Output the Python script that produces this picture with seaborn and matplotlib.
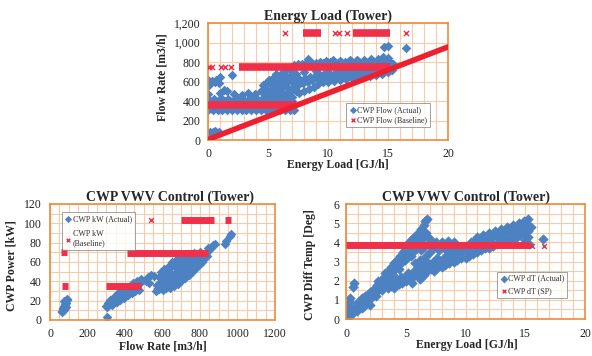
import matplotlib
matplotlib.use("Agg")
import matplotlib.pyplot as plt
import seaborn as sns

# ---- top chart: flow rate vs energy load ----
flow_act_x = [0.0, 0.15, 0.3, 0.45, 0.6, 0.75, 0.9, 0.2, 0.5, 0.8,
              0.0, 0.0, 0.05, 0.1, 0.3, 0.6, 0.9, 0.7, 1.0, 2.0,
              0.0, 0.4, 0.8, 1.2, 1.6, 2.0, 2.4, 2.8, 3.2, 3.6, 4.0, 4.4, 4.8, 5.2, 5.6, 6.0, 6.4, 6.8, 7.2,
              0.2, 0.6, 1.0, 1.4, 1.8, 2.2, 2.6, 3.0, 3.4, 3.8, 4.2, 4.6, 5.0, 5.4, 5.8, 6.2, 6.6, 7.0,
              0.2, 0.6, 1.0, 1.4, 1.8, 2.2, 2.6, 3.0, 3.4, 3.8, 4.2, 4.6, 5.0, 5.4, 5.8, 6.2, 6.6, 7.0,
              0.5, 1.1, 1.7, 2.3, 2.9, 3.5, 4.1, 4.7, 5.3, 5.9, 6.5,
              1.0, 1.3, 1.6, 2.2, 2.8, 3.3, 3.9, 4.4, 4.8,
              4.6, 4.9, 5.1, 5.4, 5.0, 5.3, 5.6, 5.8, 6.0, 6.2, 5.7, 6.1, 6.4, 6.6, 6.8, 7.0,
              6.5, 6.9, 7.2, 7.3, 7.0, 6.3, 5.9,
              5.5, 5.8, 6.0, 6.3, 6.6, 6.9, 7.1, 7.3, 7.4, 6.7, 6.2, 5.5, 5.2, 4.8, 5.7, 6.4, 6.8,
              7.6, 8.0, 8.4, 8.8, 9.2, 9.6, 10.0, 10.5, 11.0, 11.5, 12.0, 12.5, 13.0, 13.5, 14.0, 14.5, 15.0,
              7.5, 7.9, 8.3, 8.7, 9.1, 9.5, 9.9, 10.4, 10.9, 11.4, 11.9, 12.4, 12.9, 13.4, 13.9, 14.4, 14.9, 15.3,
              7.7, 8.1, 8.5, 8.9, 9.3, 9.7, 10.1, 10.7, 11.2, 11.7, 12.2, 12.7, 13.2, 13.7, 14.2, 14.7, 15.2,
              9.4, 9.8, 10.2, 10.7, 11.2, 11.7, 12.2, 12.7, 13.2, 13.7, 14.2, 14.7,
              7.3, 8.0, 9.0, 10.0, 11.0, 12.0, 13.0, 14.0, 15.0,
              7.2, 7.8, 8.4, 9.0, 9.6, 10.2, 10.8, 11.4, 12.0, 12.6, 13.2, 13.8, 14.4, 15.0, 15.4,
              7.5, 8.1, 8.7, 9.3, 9.9, 10.5, 11.1, 11.7, 12.3, 12.9, 13.5, 14.1, 14.7, 15.2,
              8.3, 9.8, 10.4, 11.0, 11.8, 12.4, 13.0, 13.6, 14.2, 14.6, 15.0,
              14.7, 15.0, 16.5]
flow_act_y = [75, 85, 70, 80, 90, 75, 80, 60, 65, 70,
              470, 620, 400, 560, 610, 600, 580, 620, 650, 665,
              310, 310, 310, 310, 310, 310, 310, 310, 310, 310, 310, 310, 310, 310, 310, 310, 310, 310, 310,
              330, 330, 330, 330, 330, 330, 330, 330, 330, 330, 330, 330, 330, 330, 330, 330, 330, 330,
              395, 395, 395, 395, 395, 395, 395, 395, 395, 395, 395, 395, 395, 395, 395, 395, 395, 395,
              425, 430, 420, 430, 425, 435, 425, 440, 445, 430, 425,
              480, 510, 500, 470, 460, 480, 470, 500, 520,
              560, 590, 620, 640, 480, 520, 560, 600, 650, 690, 480, 520, 560, 610, 660, 700,
              470, 500, 540, 600, 440, 440, 430,
              460, 500, 560, 600, 650, 620, 580, 500, 650, 530, 480, 600, 580, 560, 680, 720, 740,
              480, 500, 520, 540, 570, 590, 600, 610, 620, 630, 640, 645, 650, 660, 670, 680, 700,
              560, 580, 600, 620, 640, 650, 660, 665, 670, 675, 680, 685, 690, 690, 700, 700, 710, 720,
              620, 640, 650, 660, 670, 680, 680, 690, 690, 695, 700, 700, 705, 705, 710, 715, 720,
              620, 630, 640, 645, 650, 655, 660, 665, 670, 675, 685, 695,
              680, 700, 705, 700, 705, 710, 710, 715, 720,
              770, 775, 780, 785, 790, 795, 790, 795, 795, 800, 795, 805, 810, 795, 775,
              775, 780, 790, 795, 800, 805, 800, 805, 810, 805, 815, 815, 820, 800,
              830, 815, 825, 815, 820, 825, 820, 830, 835, 850, 840,
              950, 960, 940]
flow_base_x = [0.1, 0.35, 1.05, 1.4, 1.95, 6.45, 10.6, 10.9, 11.6, 16.5]
flow_base_y = [745, 745, 745, 745, 745, 1100, 1100, 1100, 1100, 1100]
flow_run_start = [0.0, 2.6, 7.9, 12.1]
flow_run_end = [7.3, 15.2, 9.4, 15.2]
flow_run_level = [362, 745, 1100, 1100]
flow_line_x = [0, 20]
flow_line_y = [5, 955]

# ---- bottom left: CWP power vs flow rate ----
kw_act_x = [62, 65, 68, 70, 72, 74, 75, 78, 80, 82, 84, 85, 88, 90,
            303,
            300, 310, 320, 330, 340, 350, 360, 370, 380, 390, 400, 410, 420, 430, 440, 450, 460, 470, 480,
            320, 345, 365, 385, 405, 425, 445, 465, 485,
            305, 330, 355, 375, 395, 415, 435, 455, 475,
            510, 525, 540, 555, 530,
            565, 580, 600, 620, 640, 660, 680, 700, 720, 740, 760, 780, 800, 820,
            570, 590, 610, 630, 650, 670, 690, 710, 730, 750, 770, 790, 810, 830, 850,
            580, 600, 620, 640, 660, 680, 700, 720, 740, 760, 780, 800,
            575, 595, 615, 635, 655, 675, 695, 715, 735, 755, 775, 795, 815, 835,
            590, 610, 630, 650, 670, 690, 710, 730, 750, 770,
            610, 650, 690, 730, 770, 810,
            845, 860, 870, 880,
            935, 940, 958, 965]
kw_act_y = [9, 8, 11, 12, 15, 20, 10, 17, 14, 19, 13, 18, 21, 22,
            3,
            15, 18, 17, 20, 19, 22, 23, 25, 24, 27, 28, 29, 30, 32, 33, 34, 35, 37, 38,
            21, 25, 28, 30, 32, 35, 38, 40, 42,
            13, 16, 19, 21, 23, 26, 28, 30, 31,
            40, 44, 47, 46, 38,
            30, 32, 31, 33, 33, 35, 37, 40, 43, 47, 50, 54, 58, 63,
            36, 39, 42, 45, 47, 50, 52, 55, 57, 59, 62, 64, 67, 69, 72,
            44, 47, 50, 54, 57, 58, 60, 62, 64, 66, 68, 70,
            33, 35, 38, 40, 42, 44, 47, 49, 52, 55, 58, 61, 64, 66,
            50, 53, 55, 60, 62, 63, 65, 66, 68, 69,
            36, 40, 44, 50, 56, 60,
            74, 75, 78, 79,
            79, 82, 87, 89]
kw_base_x = [538]
kw_base_y = [103]
kw_run_start = [61, 65, 296, 412, 700, 931]
kw_run_end = [90, 95, 483, 842, 877, 967]
kw_run_level = [70, 35, 35, 69, 103, 103]

# ---- bottom right: CWP diff temp vs energy load ----
dt_act_x = [0.0, 0.1, 0.2, 0.3, 0.3, 0.35, 0.25, 0.4, 0.55, 0.65, 0.6, 0.8,
            1.0, 1.0, 1.2, 1.4, 1.5, 1.6, 1.8, 2.0, 2.0, 2.2, 2.4, 2.5, 2.6, 2.8,
            3.0, 3.0, 3.2, 3.4, 3.5, 3.6, 3.8, 3.9, 4.0, 4.2, 4.3, 4.4, 4.6, 4.7, 4.8,
            5.0, 5.0, 5.2, 5.3, 5.5, 5.5, 5.7, 5.8, 6.0, 6.1, 6.3, 6.4, 6.5, 6.6, 6.8,
            6.9, 7.1, 7.0, 6.7, 6.2, 5.8, 6.0, 6.5,
            7.5, 8.0, 8.5, 9.0, 7.8, 8.4, 9.2,
            0.5, 0.7, 0.9, 1.1, 1.3, 1.3, 1.7, 1.9, 2.1, 2.3, 2.5, 2.7, 2.7, 2.9, 3.1,
            3.3, 3.3, 3.7, 3.7, 4.1, 4.1, 4.5, 4.5, 4.9, 4.9, 5.1, 5.4, 5.6, 5.9, 5.9,
            6.2, 6.3, 6.6, 6.7, 7.0, 7.2, 7.6, 8.2, 8.8,
            3.5, 3.8, 4.1, 4.0, 4.4, 4.7, 5.0, 4.6, 5.3, 5.6, 5.9, 5.5, 6.2, 6.5, 6.8, 6.2,
            7.1, 7.4, 7.7, 6.9, 7.3, 7.8, 8.0, 8.3, 8.6, 8.2, 8.8, 9.0, 9.3, 9.6, 9.2, 9.8,
            10.0, 10.3, 10.6, 10.2, 10.8, 11.0, 11.3, 11.6, 11.2, 11.8, 12.0, 12.3, 12.6,
            12.2, 12.8, 13.0, 13.3, 13.6, 13.2, 13.8, 14.0, 14.3, 14.6, 14.2, 14.8,
            15.0, 15.2, 15.1, 10.5, 11.5, 12.5, 13.5, 14.5, 15.2,
            3.9, 4.3, 4.9, 5.2, 5.7, 6.0, 6.4, 6.6, 7.0, 7.5, 7.6, 8.1, 8.5, 8.5, 8.9,
            9.1, 9.5, 9.6, 10.1, 10.4, 10.9, 11.4, 11.9, 12.1, 12.9, 13.1, 13.9, 14.1,
            14.9, 14.4, 15.1, 13.6, 12.6, 11.6, 10.8, 14.9, 15.2, 11.0, 12.0, 13.0, 14.0,
            15.5, 16.5, 15.0, 15.3]
dt_act_y = [0.0, 0.15, 0.3, 0.5, 0.9, 1.1, 0.7, 0.2, 1.65, 1.9, 0.4, 0.5,
            0.6, 0.9, 0.8, 1.0, 0.7, 1.2, 1.1, 0.75, 1.4, 1.3, 1.6, 1.2, 1.8, 1.7,
            2.0, 1.5, 2.2, 2.0, 2.5, 2.3, 2.7, 2.3, 2.9, 2.8, 3.1, 2.6, 3.3, 3.0, 3.5,
            3.2, 3.7, 3.5, 4.0, 3.6, 4.2, 4.3, 3.9, 4.5, 4.0, 4.7, 4.2, 4.9, 5.1, 5.2,
            4.3, 4.1, 3.5, 3.3, 3.1, 2.9, 2.7, 3.0,
            4.0, 4.0, 4.05, 4.0, 3.6, 3.6, 3.7,
            0.3, 0.6, 0.4, 0.7, 0.6, 1.1, 0.9, 1.3, 1.1, 1.5, 1.4, 1.5, 2.0, 1.9, 1.7,
            2.4, 1.9, 2.5, 2.1, 2.6, 3.0, 2.9, 3.3, 3.1, 3.6, 3.4, 3.3, 3.5, 3.7, 4.4,
            4.3, 3.6, 3.8, 4.5, 4.0, 3.7, 3.7, 3.9, 3.8,
            1.6, 1.7, 1.8, 1.6, 1.85, 1.9, 2.0, 2.2, 2.1, 2.2, 2.3, 1.9, 2.4, 2.3, 2.5, 2.1,
            2.6, 2.5, 2.7, 2.9, 3.0, 3.1, 2.7, 2.8, 2.9, 3.2, 3.3, 3.0, 3.1, 3.2, 3.5, 3.6,
            3.2, 3.3, 3.4, 3.7, 3.8, 3.5, 3.6, 3.7, 4.1, 4.2, 3.7, 3.8, 3.9,
            4.3, 4.4, 4.0, 4.1, 4.2, 4.6, 4.6, 4.2, 4.3, 4.4, 4.8, 4.9,
            4.5, 4.6, 5.0, 4.0, 4.4, 4.6, 4.8, 5.0, 5.2,
            1.9, 2.0, 2.2, 2.4, 2.5, 2.6, 2.7, 2.6, 2.8, 2.9, 3.2, 3.0, 3.1, 3.4, 3.5,
            3.3, 3.4, 3.7, 3.5, 3.6, 3.7, 3.9, 4.0, 4.0, 4.1, 4.3, 4.4, 4.5,
            4.7, 4.6, 4.8, 4.5, 4.3, 4.1, 4.1, 5.1, 4.3, 4.3, 4.5, 4.7, 4.9,
            4.8, 4.2, 4.1, 3.9]
dt_base_x = [15.6, 16.6]
dt_base_y = [3.82, 3.82]
dt_run_start = [0.0]
dt_run_end = [15.4]
dt_run_level = [3.84]

BLUE = "#4d82c2"
RED = "#ee2030"
RED_X = "#f0304a"
ORANGE = "#ef8a3c"
GRID = "#f6cba8"

sns.set_style("white")
plt.rcParams["font.family"] = ["Liberation Serif", "DejaVu Serif"]

fig = plt.figure(figsize=(5.92, 3.56), dpi=100)
fig.patch.set_facecolor("white")


def style_axes(ax, xlim, xmajor, xminor, ylim, ymajor, yminor, xpad, ypad):
    ax.set_xlim(*xlim)
    ax.set_ylim(*ylim)
    ax.set_xticks(xmajor)
    ax.set_yticks(ymajor)
    ax.set_xticks(xminor, minor=True)
    ax.set_yticks(yminor, minor=True)
    ax.grid(which="both", color=GRID, lw=0.8)
    ax.set_axisbelow(True)
    for sp in ax.spines.values():
        sp.set_color(ORANGE)
        sp.set_linewidth(1.2)
    ax.tick_params(which="both", length=0, labelsize=8.5, colors="#222222")
    ax.tick_params(axis="x", pad=xpad)
    ax.tick_params(axis="y", pad=ypad)


def runs(ax, starts, ends, levels, lw):
    for s, e, lv in zip(starts, ends, levels):
        ax.plot([s, e], [lv, lv], color=RED_X, lw=lw, solid_capstyle="butt", zorder=3)


def legend(ax, loc, anchor, spacing=0.25):
    leg = ax.legend(loc=loc, bbox_to_anchor=anchor, fontsize=5.8, frameon=True,
                    fancybox=False, handletextpad=0.1, borderpad=0.35,
                    handlelength=0.9, labelspacing=spacing, markerscale=0.75,
                    borderaxespad=0, labelcolor="#333333")
    leg.get_frame().set_edgecolor("#777777")
    leg.get_frame().set_linewidth(0.6)
    leg.set_zorder(5)


def labels(ax, title, tx, xl, xlx, xly, yl, ylx, yly):
    ax.text(tx, 1.0, title, transform=ax.transAxes, ha="center", va="bottom",
            fontsize=10, fontweight="bold")
    ax.set_xlabel(xl, fontsize=8.5, fontweight="bold", va="center")
    ax.xaxis.set_label_coords(xlx, xly)
    ax.set_ylabel(yl, fontsize=8.5, fontweight="bold", va="center")
    ax.yaxis.set_label_coords(ylx, yly)


# top
ax1 = fig.add_axes([208 / 592, 1 - 140 / 356, 240 / 592, 117 / 356])
style_axes(ax1, (0, 20), [0, 5, 10, 15, 20], list(range(21)),
           (0, 1200), list(range(0, 1201, 200)), list(range(0, 1201, 200)), 6, 5.5)
ax1.yaxis.set_major_formatter(matplotlib.ticker.StrMethodFormatter("{x:,.0f}"))
sns.scatterplot(x=flow_act_x, y=flow_act_y, ax=ax1, marker="D", s=24, color=BLUE,
                linewidth=0, label="CWP Flow (Actual)", zorder=2)
runs(ax1, flow_run_start, flow_run_end, flow_run_level, 5.5)
sns.scatterplot(x=flow_base_x, y=flow_base_y, ax=ax1, marker="x", s=14, color=RED_X,
                linewidth=1.0, label="CWP Flow (Baseline)", zorder=3)
ax1.plot(flow_line_x, flow_line_y, color=RED, lw=4, zorder=4)
legend(ax1, "lower right", (0.925, 0.11))
labels(ax1, "Energy Load (Tower)", 0.5, "Energy Load [GJ/h]", 0.54, -0.215,
       "Flow Rate [m3/h]", -0.19, 0.54)

# bottom left
ax2 = fig.add_axes([50 / 592, 1 - 320 / 356, 225 / 592, 116 / 356])
style_axes(ax2, (0, 1200), list(range(0, 1201, 200)), list(range(0, 1201, 50)),
           (0, 120), list(range(0, 121, 20)), list(range(0, 121, 10)), 6, 6)
sns.scatterplot(x=kw_act_x, y=kw_act_y, ax=ax2, marker="D", s=24, color=BLUE,
                linewidth=0, label="CWP kW (Actual)", zorder=2)
runs(ax2, kw_run_start, kw_run_end, kw_run_level, 5)
sns.scatterplot(x=kw_base_x, y=kw_base_y, ax=ax2, marker="x", s=12, color=RED_X,
                linewidth=1.0, label="CWP kW\n(Baseline)", zorder=3)
legend(ax2, "upper left", (0.053, 0.93), spacing=0.9)
labels(ax2, "CWP VWV Control (Tower)", 0.535, "Flow Rate [m3/h]", 0.5, -0.23,
       "CWP Power [kW]", -0.17, 0.47)

# bottom right
ax3 = fig.add_axes([346 / 592, 1 - 319 / 356, 239 / 592, 115 / 356])
style_axes(ax3, (0, 20), [0, 5, 10, 15, 20], list(range(21)),
           (0, 6), list(range(7)), [i * 0.5 for i in range(13)], 6.5, 4.5)
sns.scatterplot(x=dt_act_x, y=dt_act_y, ax=ax3, marker="D", s=28, color=BLUE,
                linewidth=0, label="CWP dT (Actual)", zorder=2)
runs(ax3, dt_run_start, dt_run_end, dt_run_level, 5)
sns.scatterplot(x=dt_base_x, y=dt_base_y, ax=ax3, marker="x", s=12, color=RED_X,
                linewidth=1.0, label="CWP dT (SP)", zorder=3)
legend(ax3, "lower right", (0.925, 0.18), spacing=0.6)
labels(ax3, "CWP VWV Control (Tower)", 0.5, "Energy Load [GJ/h]", 0.505, -0.225,
       "CWP Diff Temp [Deg]", -0.15, 0.47)

fig.savefig("out.png", dpi=100, facecolor="white")
